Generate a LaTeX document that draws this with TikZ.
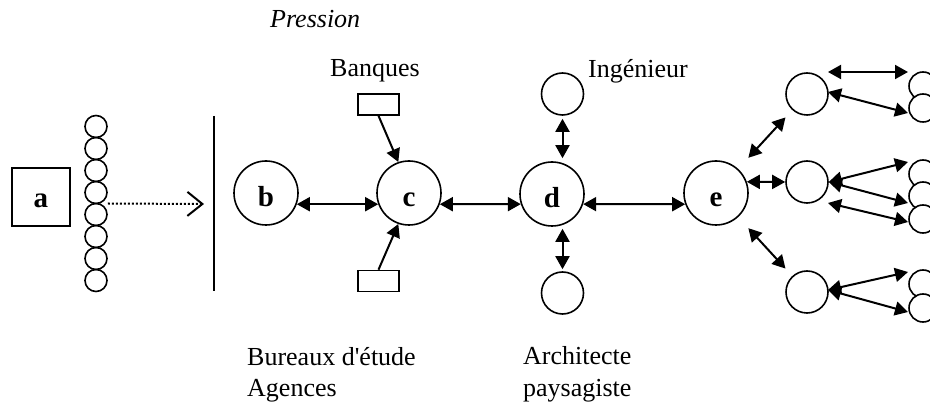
\documentclass[tikz,border=0pt]{standalone}
\usepackage{fontspec}
\setmainfont{Liberation Serif}
\usetikzlibrary{arrows.meta,calc}
\begin{document}
\begin{tikzpicture}[x=1pt,y=-1pt,
  txt/.style={inner sep=0pt, anchor=base west, font=\fontsize{26}{31}\selectfont},
  bigc/.style={circle, draw, line width=1.6pt, minimum size=64pt, inner sep=0pt, text height=28pt, text depth=0pt, font=\fontsize{29}{32}\selectfont\bfseries},
  smc/.style={circle, draw, line width=1.6pt, minimum size=42pt, inner sep=0pt, fill=white},
  tinyc/.style={circle, draw, line width=1.6pt, minimum size=28pt, inner sep=0pt, fill=white},
  chc/.style={circle, draw, line width=1.6pt, minimum size=22pt, inner sep=0pt},
  dbl/.style={line width=2pt, {Triangle[length=13pt,width=14pt]}-{Triangle[length=13pt,width=14pt]}},
  sgl/.style={line width=2pt, -{Triangle[length=13pt,width=14pt]}},
  bank/.style={draw, line width=1.6pt, minimum width=41pt, minimum height=21pt, inner sep=0pt},
  sq/.style={draw, line width=1.6pt, minimum size=58pt, inner sep=0pt, text height=22pt, text depth=0pt, font=\fontsize{29}{32}\selectfont\bfseries}
]
\useasboundingbox (0,0) rectangle (930,403);
\clip (0,0) rectangle (930,403);

% texts
\node[txt] (pression) at (270,28) {\itshape Pression};
\node[txt] (banques) at (330,77) {Banques};
\node[txt] (ingenieur) at (588,78) {Ingénieur};
\node[txt] (bureaux) at (247,366) {Bureaux d\textquotesingle étude};
\node[txt] (agences) at (247,397) {Agences};
\node[txt] (architecte) at (523,365) {Architecte};
\node[txt] (paysagiste) at (523,397) {paysagiste};

% a and chain
\node[sq] (a) at (41,197) {a};
\foreach \i in {1,...,8} {
  \node[chc] (ch\i) at (96,{126.5+22*(\i-1)}) {};
}
\coordinate (barT) at (214,116);
\coordinate (barB) at (214,291);
\draw[line width=2pt] (barT) -- (barB);
\coordinate (dotS) at ($(ch4.east)!0.5!(ch5.east)$);
\coordinate (dotE) at (204,204);
\draw[line width=2pt, dash pattern=on 2pt off 2pt,
  -{Straight Barb[length=15pt,width=24pt,line width=2pt]}] (dotS) -- (dotE);

% main chain
\node[bigc] (b) at (266,193) {b};
\node[bigc] (c) at (409,193) {c};
\node[bigc] (d) at (552,194) {d};
\node[bigc] (e) at (716,193) {e};

\draw[dbl] (b.-20) -- (c.200);
\draw[dbl] (c.-20) -- (d.198);
\draw[dbl] (d.-18) -- (e.200);

% banks
\node[bank] (bankT) at (378.5,104.5) {};
\node[bank] (bankB) at (378.5,281) {};
\draw[sgl] (bankT.south) -- (c.109);
\draw[sgl] (bankB.north) -- (c.251);

% d satellites
\node[smc] (dtop) at (562.5,94) {};
\node[smc] (dbot) at (562.5,293) {};
\draw[dbl, shorten <=3pt, shorten >=3pt] (dtop.south) -- (dtop.south |- d.north);
\draw[dbl, shorten <=2pt, shorten >=2pt] (dbot.north) -- (dbot.north |- d.south);

% e satellites
\node[smc] (r1) at (807,94) {};
\node[smc] (r2) at (807,182) {};
\node[smc] (r3) at (807,292) {};
\draw[dbl, shorten <=15pt, shorten >=10pt] (e) -- (r1);
\draw[dbl] (e.20) -- (r2.west);
\draw[dbl, shorten <=15pt, shorten >=10pt] (e) -- (r3);

% far right clusters
\node[tinyc] (f11) at (923,86) {};
\node[tinyc] (f12) at (923,108) {};
\node[tinyc] (f21) at (923,174) {};
\node[tinyc] (f22) at (923,196) {};
\node[tinyc] (f23) at (923,219) {};
\node[tinyc] (f31) at (923,284) {};
\node[tinyc] (f32) at (923,308) {};

\draw[dbl] ($(r1)+(21,-22)$) -- ($(f11)+(-15,-14)$);
\draw[dbl] ($(r1)+(21,-2)$) -- ($(f12)+(-15,5)$);
\draw[dbl] (r2.east) -- ($(f21)+(-15,-12)$);
\draw[dbl] (r2.east) -- ($(f22)+(-15,7)$);
\draw[dbl] ($(r2)+(21,21)$) -- ($(f23)+(-15,3)$);
\draw[dbl] ($(r3)+(21,-2)$) -- ($(f31)+(-15,-12)$);
\draw[dbl] ($(r3)+(21,-2)$) -- ($(f32)+(-15,4)$);
\end{tikzpicture}
\end{document}
